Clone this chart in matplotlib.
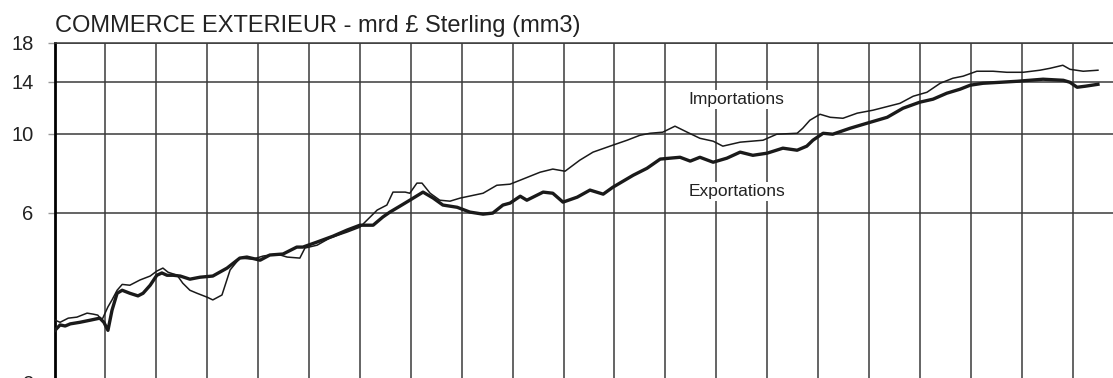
import matplotlib
matplotlib.use("Agg")
import matplotlib.pyplot as plt
from matplotlib.ticker import FixedLocator, FixedFormatter, NullLocator

plt.rcParams['font.family'] = ['Liberation Sans', 'DejaVu Sans']

title = "COMMERCE EXTERIEUR - mrd £ Sterling (mm3)"
label_imp = "Importations"
label_exp = "Exportations"

y_ticks = [2, 6, 10, 14, 18]
y_ticklabels = ["2", "6", "10", "14", "18"]
n_years = 20

# time in years from the start of the series
t_exp = [0.01, 0.11, 0.21, 0.31, 0.50, 0.70, 0.89, 0.97, 1.05, 1.13,
         1.23, 1.33, 1.48, 1.64, 1.74, 1.88, 2.01, 2.11, 2.21, 2.33,
         2.47, 2.66, 2.86, 3.11, 3.39, 3.64, 3.78, 4.04, 4.23, 4.49,
         4.76, 4.88, 5.16, 5.47, 5.75, 6.00, 6.26, 6.45, 6.59, 6.79,
         6.98, 7.24, 7.44, 7.63, 7.91, 8.16, 8.42, 8.61, 8.81, 8.95,
         9.15, 9.28, 9.60, 9.79, 9.99, 10.27, 10.52, 10.78, 10.97, 11.37,
         11.64, 11.90, 12.09, 12.29, 12.49, 12.68, 12.94, 13.21, 13.47, 13.72,
         14.00, 14.31, 14.59, 14.78, 14.90, 15.10, 15.29, 15.63, 15.96, 16.36,
         16.67, 17.00, 17.26, 17.53, 17.79, 17.99, 18.24, 18.58, 18.91, 19.42,
         19.82, 19.95, 20.09, 20.25, 20.50]
exportations = [2.81, 2.91, 2.89, 2.93, 2.96, 3.00, 3.04, 2.96, 2.81, 3.20,
                3.57, 3.64, 3.57, 3.51, 3.57, 3.76, 4.01, 4.07, 4.01, 4.01,
                3.99, 3.91, 3.96, 3.99, 4.20, 4.48, 4.51, 4.42, 4.57, 4.60,
                4.81, 4.81, 4.97, 5.16, 5.37, 5.54, 5.54, 5.84, 6.03, 6.27,
                6.51, 6.86, 6.60, 6.31, 6.22, 6.03, 5.95, 5.99, 6.31, 6.39,
                6.68, 6.51, 6.86, 6.81, 6.43, 6.64, 6.95, 6.77, 7.08, 7.65,
                8.00, 8.49, 8.54, 8.59, 8.38, 8.59, 8.32, 8.54, 8.88, 8.70,
                8.82, 9.11, 8.99, 9.23, 9.59, 10.03, 9.97, 10.36, 10.70, 11.12,
                11.79, 12.26, 12.50, 12.99, 13.33, 13.68, 13.85, 13.94, 14.03, 14.22,
                14.12, 13.94, 13.50, 13.59, 13.76]

t_imp = [0.01, 0.11, 0.27, 0.44, 0.64, 0.76, 0.85, 0.93, 1.05, 1.13,
         1.23, 1.33, 1.48, 1.68, 1.88, 2.01, 2.13, 2.23, 2.41, 2.52,
         2.66, 2.80, 3.00, 3.11, 3.29, 3.45, 3.64, 3.90, 4.10, 4.37,
         4.57, 4.82, 4.92, 5.16, 5.41, 5.75, 6.00, 6.34, 6.53, 6.65,
         6.89, 6.98, 7.12, 7.22, 7.38, 7.57, 7.77, 7.97, 8.42, 8.69,
         8.95, 9.15, 9.54, 9.79, 10.03, 10.32, 10.58, 10.97, 11.25, 11.50,
         11.70, 11.95, 12.19, 12.43, 12.68, 12.94, 13.13, 13.47, 13.92, 14.19,
         14.59, 14.70, 14.84, 15.04, 15.24, 15.49, 15.77, 16.08, 16.61, 16.87,
         17.14, 17.40, 17.65, 17.85, 18.12, 18.44, 18.71, 19.03, 19.36, 19.56,
         19.81, 19.95, 20.21, 20.50]
importations = [3.00, 2.96, 3.04, 3.06, 3.14, 3.12, 3.10, 3.00, 3.27, 3.42,
                3.64, 3.78, 3.76, 3.89, 3.99, 4.12, 4.20, 4.09, 4.01, 3.81,
                3.64, 3.57, 3.48, 3.42, 3.53, 4.15, 4.48, 4.45, 4.54, 4.60,
                4.51, 4.48, 4.78, 4.87, 5.10, 5.30, 5.47, 6.11, 6.31, 6.86,
                6.86, 6.81, 7.27, 7.27, 6.81, 6.51, 6.47, 6.60, 6.81, 7.17,
                7.22, 7.41, 7.80, 7.96, 7.85, 8.43, 8.88, 9.29, 9.59, 9.90,
                10.03, 10.10, 10.50, 10.10, 9.71, 9.53, 9.23, 9.47, 9.59, 9.97,
                10.03, 10.36, 10.91, 11.34, 11.12, 11.05, 11.42, 11.64, 12.17, 12.74,
                13.07, 13.85, 14.31, 14.50, 14.97, 14.97, 14.87, 14.87, 15.07, 15.26,
                15.56, 15.16, 14.97, 15.07]

W, H = 1113, 378
fig = plt.figure(figsize=(W / 100, H / 100), dpi=100)
fig.patch.set_facecolor("white")

left_px, top_px, bottom_px = 54.5, 42.7, 383.0
ax = fig.add_axes([left_px / W, (H - bottom_px) / H, (W - left_px) / W, (bottom_px - top_px) / H])
ax.set_yscale("log")
ax.set_ylim(2, 18)
ax.set_xlim(0, (W - left_px) / 50.9)

grid_c = "#3a3a3a"
for s in ["right", "bottom"]:
    ax.spines[s].set_visible(False)
ax.spines["top"].set_color(grid_c)
ax.spines["top"].set_linewidth(1.1)
ax.spines["left"].set_color("black")
ax.spines["left"].set_linewidth(2.0)

ax.yaxis.set_major_locator(FixedLocator(y_ticks))
ax.yaxis.set_major_formatter(FixedFormatter(y_ticklabels))
ax.yaxis.set_minor_locator(NullLocator())
ax.tick_params(axis="y", which="major", length=5, width=1.0, color="#999999",
               pad=10, labelsize=14.5, labelcolor="#222222")
ax.set_xticks(range(1, n_years + 1))
ax.tick_params(axis="x", which="both", length=0, labelbottom=False)
ax.grid(True, axis="both", which="major", color=grid_c, linewidth=1.1)
ax.set_axisbelow(True)

ax.plot(t_imp, importations, color="#1a1a1a", linewidth=1.1, zorder=3)
ax.plot(t_exp, exportations, color="#1a1a1a", linewidth=2.4, zorder=3)

bbox = dict(facecolor="white", edgecolor="none", pad=1.5)
ax.text(12.45, 12.5, label_imp, fontsize=12.5, ha="left", va="center",
        color="#222222", bbox=bbox, zorder=4)
ax.text(12.45, 6.9, label_exp, fontsize=12.5, ha="left", va="center",
        color="#222222", bbox=bbox, zorder=4)

fig.text(55 / W, 1 - 32 / H, title, fontsize=17, ha="left", va="baseline",
         color="#222222")

fig.savefig("out.png", dpi=100, facecolor="white")
